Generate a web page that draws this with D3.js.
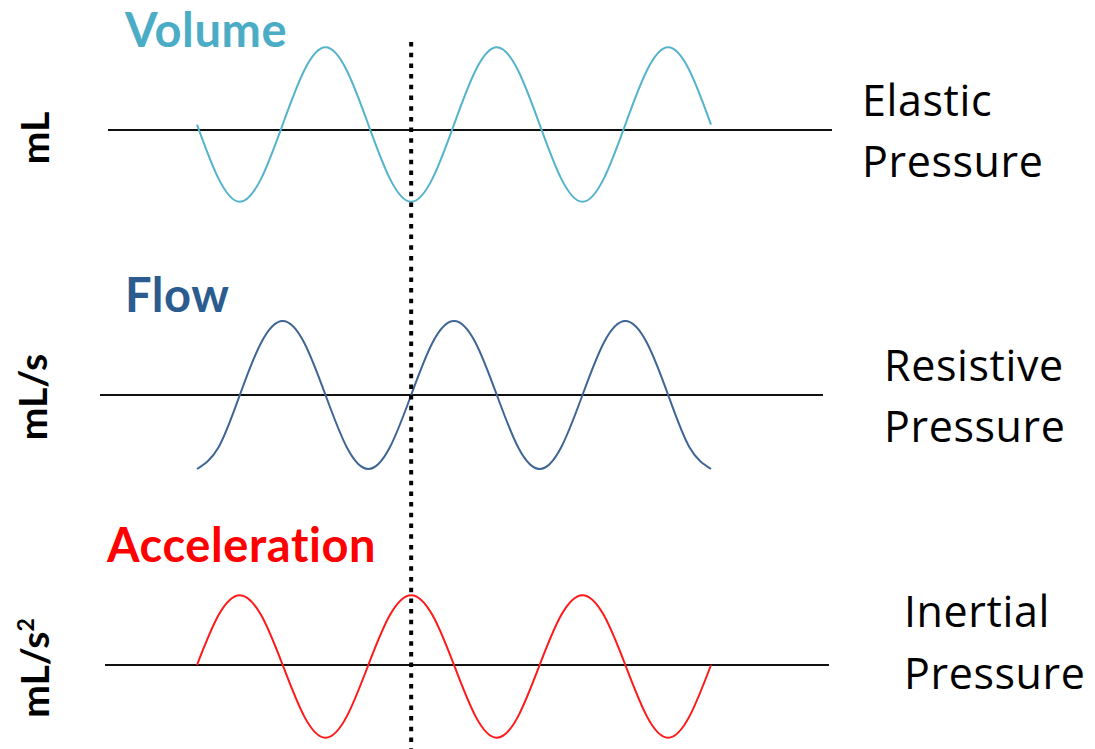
<!DOCTYPE html>
<html>
<head>
<meta charset="utf-8">
<script src="https://cdn.jsdelivr.net/npm/d3@7"></script>
<style>
  html, body { margin: 0; padding: 0; background: #ffffff; }
  svg { display: block; }
  text { font-family: Lato, "Open Sans", sans-serif; font-variant-ligatures: none; font-feature-settings: "liga" 0, "clig" 0; }
  text.right { font-family: "Open Sans", Lato, sans-serif; }
</style>
</head>
<body>
<svg id="chart" width="1095" height="749"></svg>
<script>
// ---- Data ----
// x positions in eighths of a cycle (3 cycles shown)
const phase = d3.range(0, 25);
// Volume (mL), relative to baseline
const volume = [0.07, -0.62, -0.92, -0.62, 0.07, 0.76, 1.06, 0.76,
                0.07, -0.62, -0.92, -0.62, 0.07, 0.76, 1.06, 0.76,
                0.07, -0.62, -0.92, -0.62, 0.07, 0.76, 1.06, 0.76, 0.07];
// Flow (mL/s)
const flow = [-1, -0.71, 0, 0.71, 1, 0.71, 0, -0.71,
              -1, -0.71, 0, 0.71, 1, 0.71, 0, -0.71,
              -1, -0.71, 0, 0.71, 1, 0.71, 0, -0.71, -1];
// Acceleration (mL/s^2)
const acceleration = [0, 0.69, 0.97, 0.69, 0, -0.71, -1.01, -0.71,
                      0, 0.69, 0.97, 0.69, 0, -0.71, -1.01, -0.71,
                      0, 0.69, 0.97, 0.69, 0, -0.71, -1.01, -0.71, 0];
const seriesNames = ["Volume", "Flow", "Acceleration"];
const unitLabels = ["mL", "mL/s", "mL/s"];
const pressureLabels = [["Elastic", "Pressure"], ["Resistive", "Pressure"], ["Inertial", "Pressure"]];
const markerPhase = 10; // dotted reference line

// ---- Layout / style ----
const svg = d3.select("#chart");
const x = d3.scaleLinear().domain([0, 24]).range([197, 711]);

const panels = [
  { values: volume, color: "#4BACC6", lineColor: "#55B3CC", zeroY: 130, amp: 78,
    axisX: [108, 832], titleX: 125, titleY: 47, unitX: 49, unitY: 138,
    rightX: 862, rightY: [116, 177] },
  { values: flow, color: "#2C5C8F", lineColor: "#3F6594", zeroY: 395, amp: 74,
    axisX: [100, 823], titleX: 125, titleY: 312, unitX: 47, unitY: 397,
    rightX: 884, rightY: [381, 442] },
  { values: acceleration, color: "#FF0000", lineColor: "#FF1A1A", zeroY: 665, amp: 72,
    axisX: [105, 829], titleX: 107, titleY: 562, unitX: 49, unitY: 668,
    rightX: 904, rightY: [627, 689] }
];

panels.forEach((p, i) => {
  const y = d3.scaleLinear().domain([-1, 1]).range([p.zeroY + p.amp, p.zeroY - p.amp]);
  const g = svg.append("g");

  // baseline axis
  g.append("line")
    .attr("x1", p.axisX[0]).attr("x2", p.axisX[1])
    .attr("y1", y(0)).attr("y2", y(0))
    .attr("stroke", "#111").attr("stroke-width", 2);

  // wave
  const line = d3.line()
    .x((d, j) => x(phase[j]))
    .y(d => y(d))
    .curve(d3.curveNatural);
  g.append("path")
    .datum(p.values)
    .attr("d", line)
    .attr("fill", "none")
    .attr("stroke", p.lineColor)
    .attr("stroke-width", 2);

  // title
  g.append("text")
    .attr("x", p.titleX).attr("y", p.titleY)
    .attr("fill", p.color)
    .attr("font-weight", "bold")
    .attr("font-size", 47)
    .attr("letter-spacing", 0.6)
    .text(seriesNames[i]);

  // unit label (rotated)
  const ut = g.append("text")
    .attr("transform", `translate(${p.unitX},${p.unitY}) rotate(-90)`)
    .attr("text-anchor", "middle")
    .attr("font-weight", "bold")
    .attr("font-size", 39)
    .attr("fill", "#000")
    .text(unitLabels[i]);
  if (i === 2) {
    ut.append("tspan").attr("dy", -15).attr("font-size", 23).text("2");
  }

  // pressure label
  pressureLabels[i].forEach((t, k) => {
    g.append("text")
      .attr("class", "right")
      .attr("x", p.rightX).attr("y", p.rightY[k])
      .attr("font-size", 43)
      .attr("letter-spacing", 0.6)
      .attr("fill", "#000")
      .text(t);
  });
});

// dotted reference line
svg.append("line")
  .attr("x1", x(markerPhase)).attr("x2", x(markerPhase))
  .attr("y1", 42).attr("y2", 749)
  .attr("stroke", "#000")
  .attr("stroke-width", 4)
  .attr("stroke-dasharray", "4.5,6.2");
</script>
</body>
</html>
